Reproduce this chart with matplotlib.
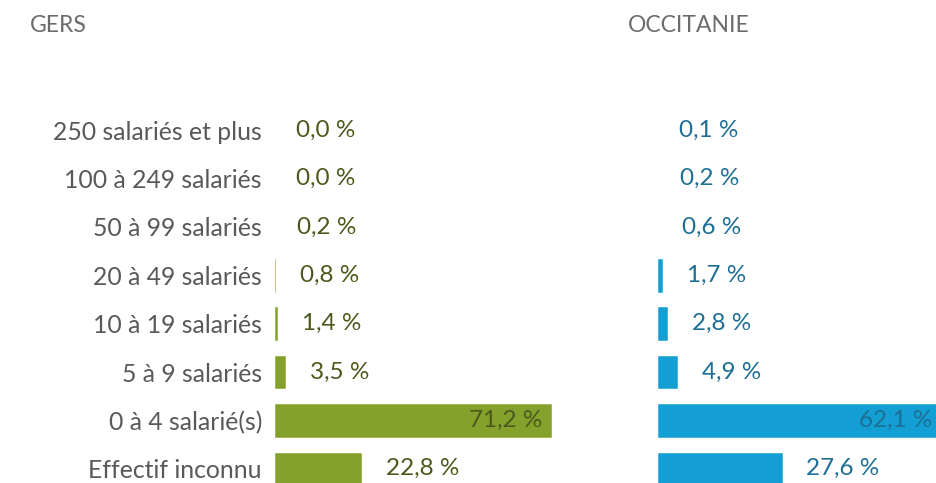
import matplotlib
matplotlib.use('Agg')
import matplotlib.pyplot as plt

categories = ['250 salariés et plus', '100 à 249 salariés', '50 à 99 salariés',
              '20 à 49 salariés', '10 à 19 salariés', '5 à 9 salariés',
              '0 à 4 salarié(s)', 'Effectif inconnu']
gers = [0.0, 0.0, 0.2, 0.8, 1.4, 3.5, 71.2, 22.8]
occitanie = [0.1, 0.2, 0.6, 1.7, 2.8, 4.9, 62.1, 27.6]

W, H = 937, 483
FS = 17.5
plt.rcParams['font.family'] = ['Lato', 'DejaVu Sans']

fig = plt.figure(figsize=(W / 100, H / 100), dpi=100)

row_top, row_bot = 106, 493
ax_b = (H - row_bot) / H
ax_h = (row_bot - row_top) / H


def panel(left_px, width_px, xmax, values, bar_col, txt_col, inside_idx):
    ax = fig.add_axes([left_px / W, ax_b, width_px / W, ax_h])
    y = list(range(len(values)))
    # white edge hides the tiniest bars, like in the original
    ax.barh(y, values, height=0.755, color=bar_col, edgecolor='white', linewidth=2.5)
    ax.set_xlim(0, xmax)
    ax.set_ylim(len(values) - 0.5, -0.5)
    ax.set_xticks([])
    for s in ax.spines.values():
        s.set_visible(False)
    for i, v in enumerate(values):
        lab = '{:.1f} %'.format(v).replace('.', ',')
        if i == inside_idx:
            ax.annotate(lab, (v, i), xytext=(-8, 0), textcoords='offset points',
                        ha='right', va='center', fontsize=FS, color=txt_col)
        else:
            ax.annotate(lab, (v, i), xytext=(16.5, 0), textcoords='offset points',
                        ha='left', va='center', fontsize=FS, color=txt_col)
    return ax


ax1 = panel(273.5, 314.4, 80, gers, '#84a12b', '#4b5a1c', 6)
ax1.set_yticks(range(len(categories)))
ax1.set_yticklabels(categories, fontsize=FS + 0.3, color='#595959')
ax1.tick_params(axis='y', length=0, pad=8.3)

ax2 = panel(656, 287, 62.1, occitanie, '#139fd3', '#1d6f94', 6)
ax2.set_yticks([])

fig.text(30 / W, 1 - 25 / H, 'GERS', fontsize=16.5, color='#6b6b6b', va='center')
fig.text(628 / W, 1 - 25 / H, 'OCCITANIE', fontsize=16.5, color='#6b6b6b', va='center')

fig.savefig('out.png', dpi=100)
